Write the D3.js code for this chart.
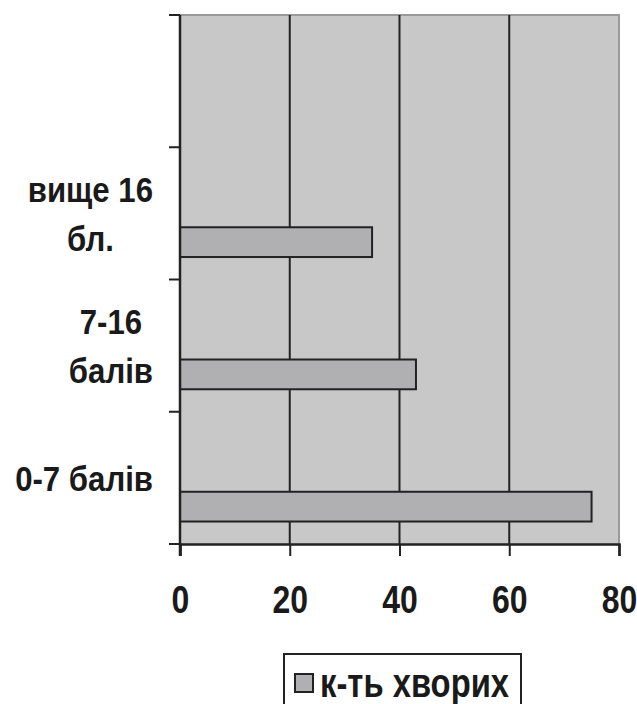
<!DOCTYPE html>
<html><head><meta charset="utf-8">
<script src="https://cdn.jsdelivr.net/npm/d3@7"></script>
<style>body{margin:0;background:#fff}svg{display:block}</style>
</head><body>
<script>
const categories = ["", "вище 16 бл.", "7-16 балів", "0-7 балів"];
const categoryLines = [[], ["вище 16", "бл."], ["7-16", "балів"], ["0-7 балів"]];
const values = [null, 35, 43, 75];
const xTicks = [0, 20, 40, 60, 80];
const seriesName = "к-ть хворих";

(function () {
const W = 637, H = 704;
const FONT = "'Liberation Sans Narrow','Arial Narrow','Liberation Sans',Arial,sans-serif";
const NARROW = 0.82;
const LABEL_NARROW = 0.89;
const svg = d3.select("body").append("svg").attr("width", W).attr("height", H);

const pL = 180, pR = 619, pT = 15, pB = 544;
const x = d3.scaleLinear().domain([0, 80]).range([pL, pR]);
const y = d3.scaleBand().domain(categories).range([pT, pB]).padding(0);

svg.append("rect").attr("x", pL).attr("y", pT).attr("width", pR - pL).attr("height", pB - pT)
  .attr("fill", "#c8c8c8");
svg.append("path").attr("d", `M${pL},${pT}H${pR}V${pB}`).attr("fill", "none")
  .attr("stroke", "#9a9a9a").attr("stroke-width", 2);

svg.append("g").selectAll("line").data(xTicks.filter(d => d > 0 && d < 80)).join("line")
  .attr("x1", d => x(d)).attr("x2", d => x(d)).attr("y1", pT).attr("y2", pB)
  .attr("stroke", "#222").attr("stroke-width", 2);

const bw = y.bandwidth();
svg.append("g").selectAll("rect").data(categories.map((c, i) => ({c, v: values[i]})).filter(d => d.v != null))
  .join("rect")
  .attr("x", x(0)).attr("y", d => y(d.c) + bw * 0.605)
  .attr("width", d => x(d.v) - x(0)).attr("height", bw * 0.225)
  .attr("fill", "#b0b0b3").attr("stroke", "#222").attr("stroke-width", 2);

const xAxis = svg.append("g").attr("transform", `translate(0,${pB})`)
  .call(d3.axisBottom(x).tickValues(xTicks).tickSize(12).tickFormat(d3.format("d")));
xAxis.select(".domain").attr("stroke", "#222").attr("stroke-width", 2.5);
xAxis.selectAll(".tick line").attr("stroke", "#222").attr("stroke-width", 2);
xAxis.selectAll(".tick text").attr("font-family", FONT).attr("font-weight", "bold")
  .attr("font-size", 39).attr("fill", "#1a1a1a")
  .attr("y", 69).attr("dy", null)
  .attr("transform", `scale(${NARROW},1)`);

const yTickPos = categories.map(c => y(c)).concat([pB]);
const yAxis = svg.append("g").attr("transform", `translate(${pL},0)`);
yAxis.append("line").attr("x1", 0).attr("x2", 0).attr("y1", pT).attr("y2", pB + 12)
  .attr("stroke", "#222").attr("stroke-width", 2.5);
yAxis.selectAll("line.t").data(yTickPos).join("line").attr("class", "t")
  .attr("x1", -11).attr("x2", 0).attr("y1", d => d).attr("y2", d => d)
  .attr("stroke", "#222").attr("stroke-width", 2);

const lineH = 49;
categories.forEach((c, i) => {
  const lines = categoryLines[i];
  if (!lines.length) return;
  const g = svg.append("g");
  const cy = y(c) + bw / 2 + 13;
  const inner = g.append("g");
  const texts = inner.selectAll("text").data(lines).join("text")
    .attr("font-family", FONT).attr("font-weight", "bold").attr("font-size", 35)
    .attr("fill", "#1a1a1a").attr("text-anchor", "middle").attr("x", 0)
    .attr("y", (d, k) => cy + (k - (lines.length - 1) / 2) * lineH)
    .text(d => d);
  let maxw = 0;
  texts.each(function () { maxw = Math.max(maxw, this.getComputedTextLength()); });
  const cx = 153 - maxw * LABEL_NARROW / 2;
  inner.attr("transform", `translate(${cx},0) scale(${LABEL_NARROW},1)`);
});

const lg = svg.append("g");
lg.append("rect").attr("x", 284).attr("y", 654).attr("width", 237).attr("height", 70)
  .attr("fill", "#fff").attr("stroke", "#222").attr("stroke-width", 2);
lg.append("rect").attr("x", 295).attr("y", 674).attr("width", 18).attr("height", 18)
  .attr("fill", "#b0b0b3").attr("stroke", "#222").attr("stroke-width", 2);
lg.append("text").attr("transform", `translate(320,697) scale(${NARROW},1)`)
  .attr("font-family", FONT).attr("font-weight", "bold").attr("font-size", 40)
  .attr("fill", "#1a1a1a").text(seriesName);
})();
</script>
</body></html>
